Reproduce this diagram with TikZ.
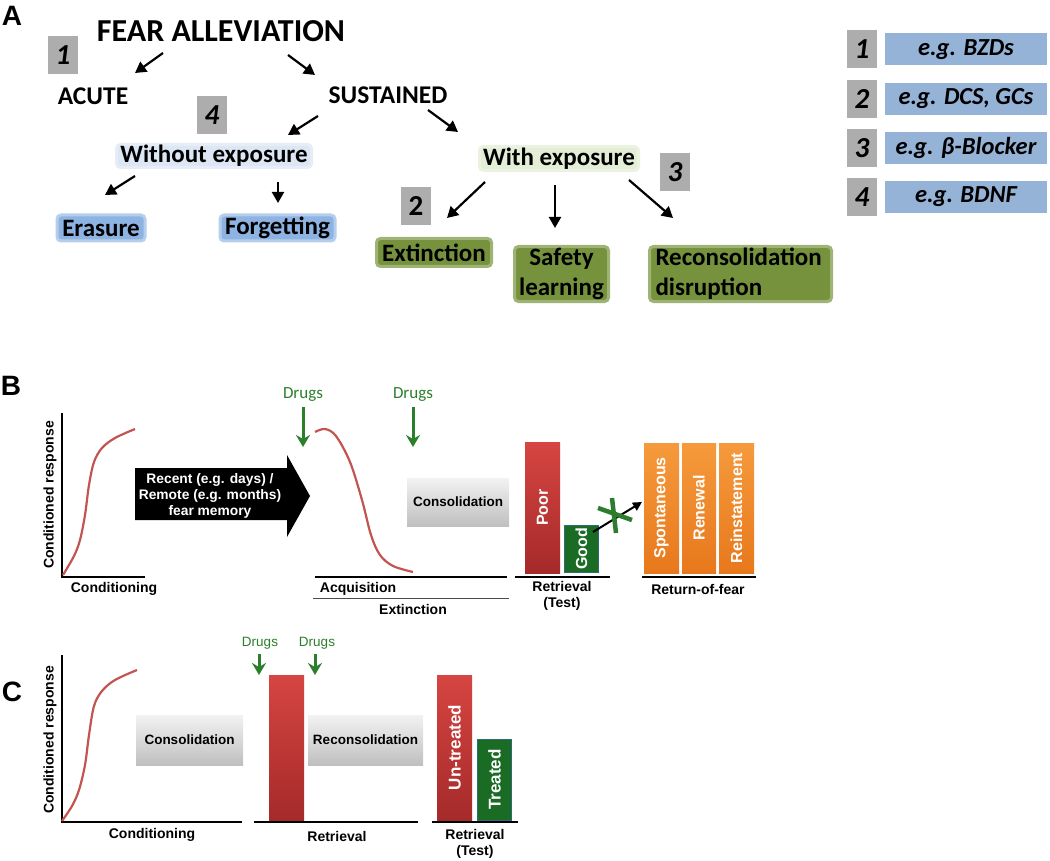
\documentclass[tikz,border=0pt]{standalone}
\usepackage{fontspec}
\setmainfont{Carlito}
\newfontfamily\arialf{Liberation Sans}
\usetikzlibrary{arrows.meta}
\definecolor{numgray}{HTML}{ADADAD}
\definecolor{lblue}{HTML}{DCE6F4}
\definecolor{mblue}{HTML}{8DB3E2}
\definecolor{legblue}{HTML}{95B3D7}
\definecolor{lgreen}{HTML}{E4EDD5}
\definecolor{olive}{HTML}{76923C}
\definecolor{curvered}{HTML}{C25552}
\definecolor{drugsgreen}{HTML}{2A7F2A}
\definecolor{barredtop}{HTML}{D64541}
\definecolor{barredbot}{HTML}{A52A2A}
\definecolor{orangetop}{HTML}{F59A3C}
\definecolor{orangebot}{HTML}{E8781C}
\definecolor{bargreen}{HTML}{1A6B23}
\definecolor{bargreenedge}{HTML}{2F6A7A}
\definecolor{xgreen}{HTML}{2E7D2E}
\begin{document}
\begin{tikzpicture}[x=1pt,y=-1pt,
  every node/.style={inner sep=0pt, outer sep=0pt},
  panel/.style={font=\arialf\bfseries\fontsize{28}{30}\selectfont},
  numbox/.style={fill=numgray, minimum width=30pt, minimum height=38pt, font=\fontsize{29}{30}\selectfont\bfseries\itshape},
  numboxup/.style={numbox, font=\fontsize{29}{30}\selectfont\bfseries},
  toplbl/.style={font=\fontsize{25.5}{28}\selectfont\bfseries},
  tagbox/.style={rounded corners=4pt, line width=3pt, font=\fontsize{25}{30}\selectfont\bfseries},
  lbluebox/.style={tagbox, fill=lblue, draw=lblue!70!white},
  mbluebox/.style={tagbox, fill=mblue, draw=mblue!65!white},
  lgreenbox/.style={tagbox, fill=lgreen, draw=lgreen!70!white},
  olivebox/.style={tagbox, fill=olive, draw=olive!70!white},
  legbox/.style={fill=legblue, minimum width=162pt, minimum height=32pt, font=\fontsize{24.5}{26}\selectfont\bfseries\itshape},
  arr/.style={line width=2.2pt, -{Triangle[length=11pt,width=12pt]}},
  axis/.style={line width=2pt},
  curve/.style={draw=curvered, line width=2.2pt},
  chartlbl/.style={font=\arialf\bfseries\fontsize{14}{16}\selectfont},
  ylbl/.style={chartlbl, rotate=90},
  graybox/.style={top color=black!5, bottom color=black!25, font=\arialf\bfseries\fontsize{13.5}{15}\selectfont},
  drugsB/.style={text=drugsgreen, font=\fontsize{17}{19}\selectfont},
  drugsC/.style={text=drugsgreen, font=\arialf\fontsize{13.5}{15}\selectfont},
  drugarr/.style={draw=drugsgreen, line width=3pt, -{Stealth[length=12pt,width=14pt,inset=4pt]}},
  barfont/.style={text=white, font=\arialf\bfseries\fontsize{16}{18}\selectfont},
  redbar/.style={barfont, rotate=90, top color=barredtop, bottom color=barredbot},
  greenbar/.style={barfont, rotate=90, fill=bargreen, draw=bargreenedge, line width=1pt},
  orangebar/.style={barfont, rotate=90, top color=orangetop, bottom color=orangebot}
]
\useasboundingbox (0,0) rectangle (1050,861);

% ---------------- Panel A ----------------
\node[panel] (lA) at (12,16) {A};
\node[font=\fontsize{32}{36}\selectfont\bfseries] (fear) at (221,31) {FEAR ALLEVIATION};
\node[numbox] (n1) at (63,55) {1};
\node[toplbl] (acute) at (93,96) {ACUTE};
\node[toplbl] (sust) at (388,95) {SUSTAINED};
\node[numbox] (n4) at (212,115) {4};
\node[lbluebox, minimum width=195pt, minimum height=23pt] (without) at (214,156) {Without exposure};
\node[mbluebox, minimum width=88pt, minimum height=26pt] (erasure) at (101,228) {Erasure};
\node[mbluebox, minimum width=115pt, minimum height=26pt] (forget) at (277.5,228) {Forgetting};
\node[lgreenbox, minimum width=159pt, minimum height=24pt] (withexp) at (559,158.5) {With exposure};
\node[numbox] (n3) at (675,172) {3};
\node[numboxup] (n2) at (416,206) {2};
\node[olivebox, minimum width=115pt, minimum height=28pt] (extinct) at (434,252.5) {Extinction};
\node[olivebox, minimum width=94pt, minimum height=55pt, align=center] (safety) at (561.5,274) {Safety\\learning};
\node[olivebox, minimum width=182pt, minimum height=55pt, align=left, text width=170pt] (recon) at (740.5,274) {Reconsolidation\\disruption};

\coordinate (a1s) at (163,53); \coordinate (a1e) at (135,73);
\coordinate (a2s) at (288,55); \coordinate (a2e) at (315,75);
\coordinate (a3s) at (318,116); \coordinate (a3e) at (288,135);
\coordinate (a4s) at (428,110); \coordinate (a4e) at (458,132);
\coordinate (a5s) at (135,176); \coordinate (a5e) at (105,195);
\coordinate (a6s) at (278,182); \coordinate (a6e) at (278,203);
\coordinate (a7s) at (485,182); \coordinate (a7e) at (447,218);
\coordinate (a8s) at (555,185); \coordinate (a8e) at (555,228);
\coordinate (a9s) at (629,180); \coordinate (a9e) at (673,218);
\foreach \i in {1,...,9} { \draw[arr] (a\i s) -- (a\i e); }

% legend
\node[numbox] (l1) at (862,49.5) {1};
\node[legbox] (lt1) at (966,49.5) {e.g. BZDs};
\node[numbox] (l2) at (862,99) {2};
\node[legbox] (lt2) at (966,99) {e.g. DCS, GCs};
\node[numbox] (l3) at (862,148) {3};
\node[legbox] (lt3) at (966,148) {e.g. β-Blocker};
\node[numbox] (l4) at (862,197) {4};
\node[legbox] (lt4) at (966,197) {e.g. BDNF};

% ---------------- Panel B ----------------
\node[panel] (lB) at (11,386) {B};
\draw[axis] (62,413) -- (62,577) -- (145,577);
\node[ylbl] (yB) at (50,495) {Conditioned response};
\node[chartlbl] (condB) at (114,589) {Conditioning};
\draw[curve] plot[smooth, tension=0.55] coordinates {(63,575) (74,556) (80,540) (85,515) (89,485) (94,462) (102,448) (115,438) (135,429)};

\fill (135,468) -- (287,468) -- (287,455) -- (310,496) -- (287,537) -- (287,520) -- (135,520) -- cycle;
\node[text=white, align=center, font=\arialf\bfseries\fontsize{13.8}{16}\selectfont] (memtxt) at (210,496) {Recent (e.g. days) /\\Remote (e.g. months)\\fear memory};

\node[drugsB] (dB1) at (303,395) {Drugs};
\coordinate (dB1e) at (303,447);
\draw[drugarr] (dB1.south) ++(0,5) -- (dB1e);
\node[drugsB] (dB2) at (413,395) {Drugs};
\coordinate (dB2e) at (413,447);
\draw[drugarr] (dB2.south) ++(0,5) -- (dB2e);

\draw[curve] plot[smooth, tension=0.55] coordinates {(315,432) (325,429) (336,436) (350,462) (362,500) (371,535) (380,555) (393,566) (413,572)};
\draw[axis] (315,577) -- (507,577);
\node[chartlbl] (acqB) at (358,589) {Acquisition};
\draw[line width=1pt, black!70] (313,598) -- (509,598);
\node[chartlbl] (extB) at (413,609) {Extinction};
\node[graybox, minimum width=102pt, minimum height=48pt] (consB) at (458,502) {Consolidation};

\draw[axis] (515,577) -- (610,577);
\node[redbar, minimum width=131pt, minimum height=35pt] (poor) at (542.5,507.5) {Poor};
\node[greenbar, minimum width=47pt, minimum height=34pt] (good) at (581.5,549) {Good};
\node[chartlbl, align=center] (retB) at (562,596) {Retrieval\\(Test)};
\coordinate (xarrE) at (642,502);
\draw[line width=2pt, -{Triangle[length=9pt,width=9pt]}] (593,532) -- (xarrE);
\draw[xgreen, line width=4.5pt] (598,508) -- (632,520);
\draw[xgreen, line width=4.5pt] (612,498) -- (616,533);

\draw[axis] (642,577) -- (756,577);
\node[orangebar, minimum width=130pt, minimum height=35pt] (spont) at (661.5,508) {Spontaneous};
\node[orangebar, minimum width=130pt, minimum height=34pt] (renew) at (699,508) {Renewal};
\node[orangebar, minimum width=130pt, minimum height=35pt] (reinst) at (736.5,508) {Reinstatement};
\node[chartlbl] (rofB) at (698,589) {Return-of-fear};

% ---------------- Panel C ----------------
\node[panel] (lC) at (12,692) {C};
\draw[axis] (62,655) -- (62,822) -- (242,822);
\node[ylbl] (yC) at (50,740) {Conditioned response};
\node[chartlbl] (condC) at (152,835) {Conditioning};
\draw[curve] plot[smooth, tension=0.55] coordinates {(62,821) (72,806) (79,790) (85,765) (89,735) (94,706) (102,691) (115,680) (137,670)};
\node[graybox, minimum width=107pt, minimum height=50pt] (consC) at (189.5,740) {Consolidation};

\draw[axis] (254,822) -- (418,822);
\node[drugsC] (dC1) at (260,643) {Drugs};
\coordinate (dC1e) at (259,675);
\draw[drugarr, line width=3pt] (259,654) -- (dC1e);
\node[drugsC] (dC2) at (317,643) {Drugs};
\coordinate (dC2e) at (315,675);
\draw[drugarr, line width=3pt] (315,654) -- (dC2e);
\node[redbar, minimum width=145pt, minimum height=35pt] (retbar) at (286.5,747.5) {};
\node[graybox, minimum width=115pt, minimum height=50pt] (reconC) at (365.5,740) {Reconsolidation};
\node[chartlbl] (retC) at (337,836) {Retrieval};

\draw[axis] (432,822) -- (518,822);
\node[redbar, font=\arialf\bfseries\fontsize{17}{19}\selectfont, minimum width=145pt, minimum height=35pt] (untr) at (454.5,747.5) {Un-treated};
\node[greenbar, font=\arialf\bfseries\fontsize{17}{19}\selectfont, minimum width=81pt, minimum height=34pt] (treat) at (494.5,779.5) {Treated};
\node[chartlbl, align=center] (retTC) at (475,844) {Retrieval\\(Test)};
\end{tikzpicture}
\end{document}
